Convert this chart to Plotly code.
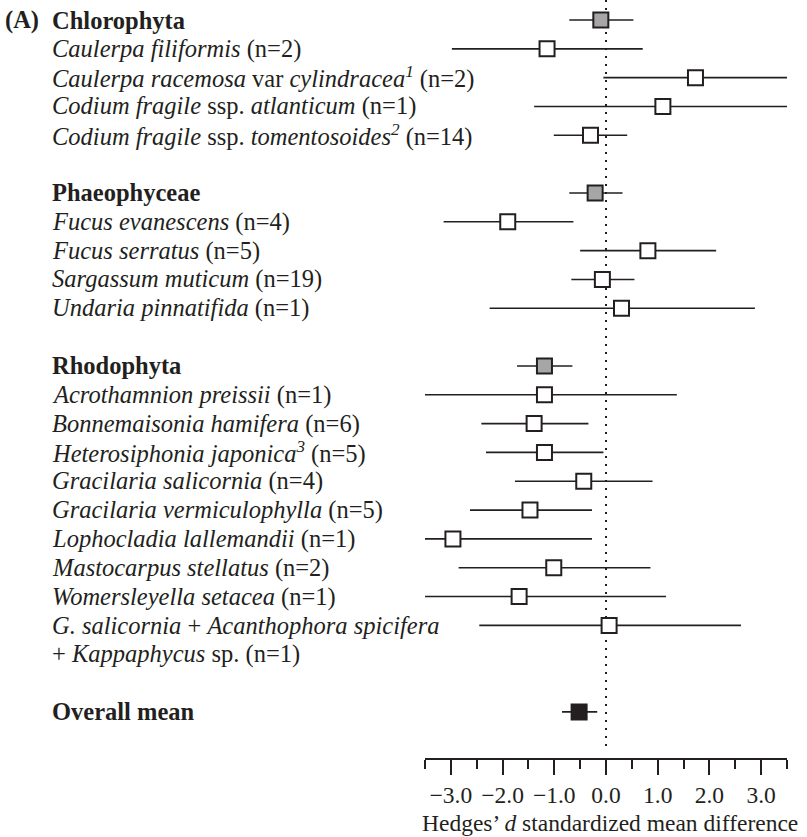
import plotly.graph_objects as go

# ---- data ----
labels = [
    "<b>Chlorophyta</b>",
    "<i>Caulerpa filiformis</i> (n=2)",
    "<i>Caulerpa racemosa</i> var <i>cylindracea</i><sup><i>1</i></sup> (n=2)",
    "<i>Codium fragile</i> ssp. <i>atlanticum</i> (n=1)",
    "<i>Codium fragile</i> ssp. <i>tomentosoides</i><sup><i>2</i></sup> (n=14)",
    "<b>Phaeophyceae</b>",
    "<i>Fucus evanescens</i> (n=4)",
    "<i>Fucus serratus</i> (n=5)",
    "<i>Sargassum muticum</i> (n=19)",
    "<i>Undaria pinnatifida</i> (n=1)",
    "<b>Rhodophyta</b>",
    "<i>Acrothamnion preissii</i> (n=1)",
    "<i>Bonnemaisonia hamifera</i> (n=6)",
    "<i>Heterosiphonia japonica</i><sup><i>3</i></sup> (n=5)",
    "<i>Gracilaria salicornia</i> (n=4)",
    "<i>Gracilaria vermiculophylla</i> (n=5)",
    "<i>Lophocladia lallemandii</i> (n=1)",
    "<i>Mastocarpus stellatus</i> (n=2)",
    "<i>Womersleyella setacea</i> (n=1)",
    "<i>G. salicornia</i> + <i>Acanthophora spicifera</i>",
    "+ <i>Kappaphycus</i> sp. (n=1)",
    "<b>Overall mean</b>",
]
label_rows = [0, 1, 2, 3, 4, 6, 7, 8, 9, 10, 12, 13, 14, 15, 16, 17, 18, 19, 20, 21, 22, 24]

point_rows = [0, 1, 2, 3, 4, 6, 7, 8, 9, 10, 12, 13, 14, 15, 16, 17, 18, 19, 20, 21, 24]
means = [-0.10, -1.14, 1.73, 1.10, -0.30,
         -0.21, -1.90, 0.81, -0.07, 0.30,
         -1.19, -1.19, -1.39, -1.19, -0.43, -1.47, -2.96, -1.01, -1.68, 0.06,
         -0.52]
lows = [-0.71, -2.98, -0.05, -1.39, -1.01,
        -0.71, -3.14, -0.50, -0.67, -2.25,
        -1.72, -3.50, -2.41, -2.32, -1.76, -2.63, -3.50, -2.85, -3.50, -2.45,
        -0.85]
highs = [0.53, 0.71, 3.50, 3.50, 0.41,
         0.32, -0.63, 2.13, 0.55, 2.88,
         -0.65, 1.37, -0.34, -0.05, 0.90, -0.27, -0.27, 0.86, 1.16, 2.61,
         -0.17]
kinds = ["group", "sp", "sp", "sp", "sp",
         "group", "sp", "sp", "sp", "sp",
         "group", "sp", "sp", "sp", "sp", "sp", "sp", "sp", "sp", "sp",
         "overall"]

tick_vals = [-3, -2, -1, 0, 1, 2, 3]
tick_text = ["\u22123.0", "\u22122.0", "\u22121.0", "0.0", "1.0", "2.0", "3.0"]
minor_vals = [-3.5, -2.5, -1.5, -0.5, 0.5, 1.5, 2.5, 3.5]

INK = "#231f20"
FONT = "Liberation Serif"
FS = 24.5
fills = {"group": "#a6a6a6", "sp": "#ffffff", "overall": INK}

fig = go.Figure()

# reference line at zero
fig.add_trace(go.Scatter(
    x=[0, 0], y=[0.694, -25.32], mode="lines",
    line=dict(color=INK, width=2, dash="2px,6px"),
    hoverinfo="skip", showlegend=False))

ys = [-r for r in point_rows]
fig.add_trace(go.Scatter(
    x=means, y=ys, mode="markers",
    error_x=dict(type="data", symmetric=False,
                 array=[h - m for h, m in zip(highs, means)],
                 arrayminus=[m - l for m, l in zip(means, lows)],
                 color=INK, thickness=1.6, width=0),
    marker=dict(symbol="square", size=15,
                color=[fills[k] for k in kinds],
                line=dict(color=INK, width=2)),
    showlegend=False, cliponaxis=False))

x_left = (50 - 425) / 361.7
for lab, r in zip(labels, label_rows):
    fig.add_annotation(x=x_left, xref="paper", y=-r, yref="y",
                       text=lab, showarrow=False, xanchor="left",
                       yanchor="middle", font=dict(family=FONT, size=FS, color=INK))
fig.add_annotation(x=(3 - 425) / 361.7, xref="paper", y=0, yref="y",
                   text="<b>(A)</b>", showarrow=False, xanchor="left",
                   yanchor="middle", font=dict(family=FONT, size=FS, color=INK))
fig.add_annotation(x=0.511, xref="paper", y=(758 - 823) / 758, yref="paper",
                   text="Hedges\u2019 <i>d</i> standardized mean difference",
                   showarrow=False, xanchor="center", yanchor="middle",
                   font=dict(family=FONT, size=23.5, color=INK))

fig.update_layout(
    width=807, height=837,
    margin=dict(l=425, r=20, t=0, b=79),
    paper_bgcolor="white", plot_bgcolor="white",
    xaxis=dict(range=[-3.5, 3.5], showgrid=False, zeroline=False,
               showline=True, linecolor=INK, linewidth=1.5,
               ticks="outside", ticklen=15, tickwidth=1.5, tickcolor=INK,
               tickvals=tick_vals, ticktext=tick_text,
               tickfont=dict(family=FONT, size=23.5, color=INK),
               minor=dict(tickvals=minor_vals, ticks="outside", ticklen=9,
                          tickwidth=1.5, tickcolor=INK, showgrid=False),
               fixedrange=True),
    yaxis=dict(range=[-25.6, 0.694], visible=False, showgrid=False,
               zeroline=False, fixedrange=True),
)

fig.write_html("out.html", config={"displayModeBar": False},
               post_script="document.body.style.margin='0';document.body.style.overflow='hidden';")
